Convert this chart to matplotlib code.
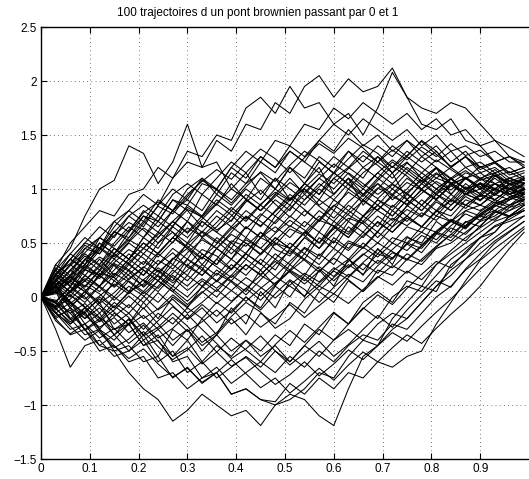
import matplotlib
matplotlib.use('Agg')
import matplotlib.pyplot as plt
import numpy as np

# time grid (every 0.03 from 0 to 0.99)
t = [0.00, 0.03, 0.06, 0.09, 0.12, 0.15, 0.18, 0.21, 0.24, 0.27, 0.30, 0.33,
     0.36, 0.39, 0.42, 0.45, 0.48, 0.51, 0.54, 0.57, 0.60, 0.63, 0.66, 0.69,
     0.72, 0.75, 0.78, 0.81, 0.84, 0.87, 0.90, 0.93, 0.96, 0.99]

# outer paths
p1 = [0, 0.3, 0.45, 0.75, 1.0, 1.08, 1.40, 1.33, 1.05, 1.25, 1.60, 1.20, 1.25, 1.00, 1.15, 0.95, 1.10, 0.90, 1.05, 1.20, 0.95, 1.10, 0.85, 1.00, 1.15, 0.90, 1.05, 1.20, 0.95, 1.10, 1.00, 1.15, 0.95, 1.05]
p2 = [0, 0.2, 0.35, 0.5, 0.45, 0.7, 0.8, 0.95, 0.85, 1.1, 1.25, 1.2, 1.45, 1.35, 1.6, 1.55, 1.8, 1.7, 1.95, 2.05, 1.85, 2.02, 1.9, 1.95, 2.12, 1.85, 1.75, 1.70, 1.80, 1.75, 1.60, 1.45, 1.38, 1.30]
p3 = [0, 0.25, 0.5, 0.65, 0.8, 0.75, 0.95, 1.0, 1.2, 1.1, 1.35, 1.3, 1.5, 1.45, 1.75, 1.85, 1.7, 1.95, 1.75, 1.8, 1.6, 1.7, 1.5, 1.75, 2.08, 1.85, 1.6, 1.55, 1.65, 1.45, 1.40, 1.25, 1.30, 1.20]
p4 = [0, -0.3, -0.65, -0.45, -0.40, -0.55, -0.50, -0.35, -0.55, -0.30, -0.40, -0.20, -0.35, -0.10, -0.25, 0.05, -0.10, 0.15, 0.0, 0.25, 0.10, 0.35, 0.20, 0.45, 0.30, 0.55, 0.50, 0.70, 0.60, 0.80, 0.75, 0.85, 0.80, 0.90]
p5 = [0, -0.15, -0.30, -0.25, -0.45, -0.50, -0.70, -0.85, -0.95, -1.15, -1.05, -0.90, -1.00, -1.10, -1.05, -1.19, -1.00, -0.95, -0.85, -0.70, -0.75, -0.55, -0.40, -0.45, -0.20, -0.05, 0.10, 0.05, 0.30, 0.40, 0.55, 0.60, 0.75, 0.80]
p6 = [0, 0.1, -0.1, -0.2, -0.05, -0.3, -0.25, -0.45, -0.40, -0.60, -0.55, -0.75, -0.70, -0.90, -0.85, -0.95, -1.00, -0.90, -0.95, -1.10, -1.19, -0.85, -0.55, -0.45, -0.30, -0.20, -0.05, 0.10, 0.25, 0.35, 0.50, 0.60, 0.75, 0.85]
p7 = [0, 0.05, -0.2, -0.35, -0.30, -0.50, -0.45, -0.60, -0.55, -0.75, -0.65, -0.80, -0.70, -0.90, -0.85, -0.95, -0.97, -0.80, -0.90, -0.75, -0.85, -0.70, -0.75, -0.60, -0.65, -0.55, -0.50, -0.25, -0.05, 0.15, 0.34, 0.45, 0.55, 0.65]
p8 = [0, 0.15, 0.30, 0.45, 0.40, 0.60, 0.55, 0.75, 0.70, 0.90, 0.85, 1.05, 1.00, 1.20, 1.35, 1.25, 1.45, 1.40, 1.60, 1.55, 1.75, 1.65, 1.80, 1.70, 1.60, 1.70, 1.55, 1.65, 1.50, 1.55, 1.40, 1.45, 1.30, 1.25]
p9 = [0, -0.20, -0.35, -0.30, -0.50, -0.45, -0.60, -0.55, -0.75, -0.70, -0.85, -0.75, -0.65, -0.80, -0.70, -0.60, -0.70, -0.55, -0.65, -0.50, -0.60, -0.45, -0.35, -0.40, -0.25, -0.30, -0.15, 0.00, 0.10, 0.25, 0.35, 0.50, 0.60, 0.70]

# paths inside the dense band (estimated)
q1 = [0, 0.15, 0.05, 0.25, 0.20, 0.40, 0.30, 0.45, 0.60, 0.50, 0.70, 0.55, 0.65, 0.80, 0.70, 0.85, 0.75, 0.90, 1.00, 0.85, 0.95, 1.10, 0.95, 1.05, 0.90, 1.00, 1.15, 1.05, 0.95, 1.10, 1.00, 0.90, 1.00, 0.95]
q2 = [0, -0.10, 0.05, -0.05, 0.10, 0.00, 0.15, 0.05, 0.20, 0.10, 0.30, 0.20, 0.35, 0.25, 0.40, 0.30, 0.50, 0.45, 0.60, 0.50, 0.65, 0.55, 0.70, 0.60, 0.80, 0.70, 0.85, 0.75, 0.90, 0.85, 0.95, 0.90, 1.00, 0.95]
q3 = [0, 0.20, 0.35, 0.25, 0.50, 0.40, 0.60, 0.75, 0.65, 0.80, 0.70, 0.95, 0.85, 1.05, 0.90, 1.10, 1.00, 1.20, 1.05, 1.25, 1.15, 1.35, 1.20, 1.30, 1.15, 1.25, 1.10, 1.20, 1.05, 1.15, 1.10, 1.00, 1.10, 1.05]
q4 = [0, -0.05, -0.20, -0.10, -0.30, -0.15, -0.25, -0.05, -0.20, 0.00, -0.10, 0.10, 0.00, 0.15, 0.05, 0.25, 0.10, 0.30, 0.20, 0.40, 0.30, 0.50, 0.45, 0.60, 0.50, 0.65, 0.60, 0.75, 0.70, 0.80, 0.85, 0.80, 0.90, 0.95]
q5 = [0, 0.10, 0.25, 0.15, 0.30, 0.45, 0.35, 0.55, 0.45, 0.65, 0.55, 0.70, 0.60, 0.50, 0.65, 0.55, 0.75, 0.65, 0.80, 0.70, 0.90, 0.80, 0.95, 0.85, 1.00, 0.90, 1.05, 0.95, 1.10, 1.00, 1.05, 0.95, 1.05, 1.00]
q6 = [0, 0.05, -0.10, 0.05, -0.05, 0.15, 0.05, 0.25, 0.15, 0.35, 0.45, 0.35, 0.55, 0.45, 0.65, 0.55, 0.70, 0.85, 0.75, 0.90, 0.80, 1.00, 0.90, 1.05, 0.95, 1.10, 1.00, 1.10, 1.05, 0.95, 1.05, 1.00, 0.95, 1.00]
q7 = [0, 0.25, 0.15, 0.35, 0.50, 0.40, 0.55, 0.70, 0.60, 0.80, 0.90, 0.80, 1.00, 0.90, 1.05, 1.15, 1.00, 1.20, 1.10, 1.30, 1.20, 1.35, 1.25, 1.40, 1.30, 1.45, 1.35, 1.25, 1.35, 1.20, 1.25, 1.15, 1.20, 1.10]
q8 = [0, -0.15, -0.05, -0.25, -0.15, -0.35, -0.20, -0.40, -0.30, -0.45, -0.30, -0.50, -0.35, -0.20, -0.35, -0.15, -0.25, -0.05, -0.15, 0.05, -0.05, 0.15, 0.05, 0.25, 0.20, 0.35, 0.30, 0.45, 0.50, 0.60, 0.70, 0.75, 0.85, 0.90]
q9 = [0, 0.10, 0.00, 0.20, 0.10, 0.30, 0.20, 0.10, 0.25, 0.15, 0.35, 0.25, 0.45, 0.35, 0.55, 0.45, 0.35, 0.50, 0.40, 0.60, 0.50, 0.70, 0.60, 0.75, 0.65, 0.85, 0.75, 0.90, 0.80, 0.95, 0.90, 1.00, 0.95, 1.05]
q10 = [0, 0.30, 0.20, 0.45, 0.55, 0.70, 0.60, 0.80, 0.70, 0.90, 0.80, 0.65, 0.80, 0.70, 0.90, 0.80, 0.95, 0.85, 1.05, 0.95, 1.15, 1.05, 1.20, 1.10, 1.25, 1.15, 1.30, 1.20, 1.10, 1.20, 1.10, 1.15, 1.05, 1.10]
q11 = [0, -0.10, -0.25, -0.15, -0.30, -0.40, -0.25, -0.45, -0.35, -0.55, -0.40, -0.60, -0.45, -0.55, -0.40, -0.50, -0.35, -0.45, -0.25, -0.35, -0.15, -0.25, -0.05, 0.05, -0.05, 0.15, 0.10, 0.30, 0.40, 0.50, 0.60, 0.70, 0.75, 0.80]
q12 = [0, 0.05, 0.20, 0.10, 0.25, 0.15, 0.30, 0.20, 0.40, 0.30, 0.50, 0.40, 0.30, 0.45, 0.35, 0.55, 0.65, 0.55, 0.70, 0.60, 0.80, 0.70, 0.90, 0.80, 0.95, 0.85, 1.00, 0.90, 1.05, 0.95, 1.00, 1.10, 1.00, 1.05]
q13 = [0, 0.20, 0.40, 0.55, 0.45, 0.65, 0.80, 0.70, 0.90, 0.80, 1.00, 1.10, 0.95, 1.15, 1.05, 1.25, 1.15, 1.35, 1.25, 1.45, 1.35, 1.55, 1.40, 1.50, 1.35, 1.45, 1.30, 1.40, 1.25, 1.35, 1.20, 1.25, 1.15, 1.20]
q14 = [0, -0.05, 0.10, 0.00, -0.15, 0.00, -0.10, 0.05, -0.05, 0.10, 0.00, 0.15, 0.05, 0.20, 0.35, 0.25, 0.40, 0.30, 0.45, 0.35, 0.55, 0.45, 0.60, 0.50, 0.65, 0.75, 0.65, 0.80, 0.75, 0.90, 0.85, 0.95, 0.90, 1.00]
q15 = [0, 0.15, 0.30, 0.20, 0.10, 0.25, 0.40, 0.30, 0.50, 0.60, 0.50, 0.70, 0.60, 0.75, 0.90, 0.80, 0.95, 1.10, 0.95, 1.10, 1.00, 1.15, 1.05, 0.95, 1.05, 0.95, 1.10, 1.00, 1.10, 1.00, 1.05, 0.95, 1.05, 1.00]
q16 = [0, 0.05, -0.05, -0.20, -0.10, -0.25, -0.15, -0.30, -0.15, -0.25, -0.10, -0.20, -0.05, -0.15, 0.00, -0.10, 0.10, 0.00, 0.20, 0.10, 0.25, 0.35, 0.25, 0.40, 0.35, 0.50, 0.45, 0.60, 0.55, 0.70, 0.65, 0.80, 0.75, 0.85]
q17 = [0, 0.20, 0.10, 0.30, 0.45, 0.35, 0.50, 0.40, 0.55, 0.70, 0.60, 0.75, 0.90, 0.80, 0.95, 0.85, 1.00, 0.90, 1.05, 0.95, 1.10, 1.00, 1.15, 1.25, 1.15, 1.30, 1.20, 1.10, 1.20, 1.10, 1.15, 1.05, 1.10, 1.05]
q18 = [0, -0.20, -0.10, -0.30, -0.45, -0.35, -0.50, -0.40, -0.60, -0.50, -0.70, -0.60, -0.75, -0.65, -0.55, -0.65, -0.50, -0.60, -0.45, -0.55, -0.40, -0.30, -0.40, -0.25, -0.15, -0.20, -0.05, 0.10, 0.20, 0.35, 0.45, 0.55, 0.65, 0.75]
q19 = [0, 0.10, 0.25, 0.40, 0.30, 0.50, 0.65, 0.55, 0.75, 0.65, 0.85, 0.75, 0.95, 0.85, 1.00, 0.90, 1.10, 1.00, 0.90, 1.05, 0.95, 1.10, 1.00, 1.15, 1.05, 1.20, 1.10, 1.00, 1.10, 1.00, 1.10, 1.05, 0.95, 1.00]
q20 = [0, 0.05, 0.15, 0.05, 0.20, 0.10, 0.25, 0.15, 0.05, 0.20, 0.10, 0.25, 0.15, 0.30, 0.20, 0.35, 0.25, 0.45, 0.35, 0.55, 0.45, 0.65, 0.55, 0.70, 0.60, 0.75, 0.65, 0.80, 0.70, 0.85, 0.80, 0.90, 0.85, 0.95]
q21 = [0, 0.25, 0.40, 0.30, 0.55, 0.45, 0.35, 0.55, 0.70, 0.60, 0.45, 0.60, 0.50, 0.65, 0.55, 0.75, 0.90, 0.80, 1.00, 0.90, 1.10, 1.20, 1.10, 1.30, 1.20, 1.35, 1.25, 1.35, 1.20, 1.30, 1.20, 1.25, 1.15, 1.20]
q22 = [0, -0.10, 0.05, 0.15, 0.05, 0.20, 0.35, 0.25, 0.15, 0.30, 0.20, 0.40, 0.30, 0.50, 0.40, 0.60, 0.50, 0.40, 0.55, 0.45, 0.65, 0.55, 0.75, 0.65, 0.85, 0.75, 0.90, 0.80, 0.95, 0.85, 0.95, 0.90, 1.00, 0.95]
q23 = [0, 0.15, 0.05, 0.20, 0.35, 0.20, 0.35, 0.50, 0.40, 0.55, 0.45, 0.30, 0.45, 0.35, 0.50, 0.40, 0.55, 0.45, 0.60, 0.75, 0.65, 0.80, 0.70, 0.85, 0.75, 0.90, 0.80, 0.95, 0.85, 1.00, 0.90, 1.00, 0.95, 0.90]
q24 = [0, 0.10, -0.05, -0.15, 0.00, -0.10, 0.05, -0.05, 0.10, 0.25, 0.15, 0.30, 0.20, 0.35, 0.25, 0.40, 0.55, 0.45, 0.60, 0.50, 0.70, 0.60, 0.75, 0.85, 0.75, 0.90, 0.80, 0.95, 1.05, 0.95, 1.05, 1.00, 1.10, 1.05]
q25 = [0, 0.20, 0.35, 0.50, 0.65, 0.55, 0.75, 0.85, 0.75, 0.95, 1.05, 0.95, 1.10, 1.25, 1.15, 1.30, 1.20, 1.40, 1.30, 1.45, 1.60, 1.50, 1.65, 1.55, 1.45, 1.55, 1.40, 1.50, 1.35, 1.40, 1.30, 1.35, 1.25, 1.25]
q26 = [0, -0.05, -0.15, -0.30, -0.20, -0.35, -0.25, -0.10, -0.25, -0.40, -0.30, -0.45, -0.35, -0.50, -0.40, -0.55, -0.45, -0.60, -0.45, -0.30, -0.40, -0.25, -0.10, -0.20, 0.00, 0.10, 0.05, 0.20, 0.35, 0.45, 0.55, 0.65, 0.70, 0.75]
q27 = [0, 0.10, 0.20, 0.35, 0.25, 0.45, 0.35, 0.50, 0.40, 0.55, 0.70, 0.60, 0.75, 0.65, 0.80, 0.70, 0.60, 0.75, 0.65, 0.80, 0.70, 0.85, 0.75, 0.90, 0.80, 0.95, 0.85, 1.00, 0.90, 1.05, 0.95, 1.05, 1.00, 1.10]
q28 = [0, 0.05, 0.20, 0.30, 0.45, 0.60, 0.75, 0.65, 0.85, 1.00, 0.90, 1.10, 1.00, 1.20, 1.10, 1.30, 1.20, 1.35, 1.25, 1.15, 1.30, 1.20, 1.35, 1.25, 1.40, 1.30, 1.45, 1.35, 1.20, 1.30, 1.15, 1.20, 1.10, 1.15]
q29 = [0, -0.15, -0.25, -0.10, -0.20, -0.05, -0.15, 0.00, 0.15, 0.05, 0.20, 0.10, 0.25, 0.15, 0.30, 0.20, 0.35, 0.25, 0.40, 0.30, 0.45, 0.35, 0.50, 0.40, 0.55, 0.50, 0.65, 0.60, 0.70, 0.65, 0.75, 0.80, 0.75, 0.85]
q30 = [0, 0.25, 0.10, 0.30, 0.20, 0.35, 0.25, 0.40, 0.30, 0.45, 0.35, 0.55, 0.45, 0.60, 0.75, 0.65, 0.80, 0.95, 0.85, 1.00, 0.90, 1.05, 0.95, 1.10, 1.00, 1.15, 1.05, 1.15, 1.05, 1.10, 1.00, 1.05, 0.95, 1.00]

# more band paths with less regular steps (estimated)
r1 = [0, 0.12, -0.08, 0.02, 0.22, 0.18, 0.05, 0.12, 0.30, 0.41, 0.28, 0.20, 0.35, 0.52, 0.47, 0.60, 0.44, 0.38, 0.55, 0.71, 0.66, 0.58, 0.74, 0.90, 0.83, 0.97, 1.08, 0.95, 0.88, 1.02, 0.96, 1.12, 1.04, 0.98]
r2 = [0, -0.18, -0.12, -0.31, -0.22, -0.08, -0.19, -0.36, -0.28, -0.15, -0.27, -0.42, -0.33, -0.18, -0.05, -0.14, -0.29, -0.20, -0.02, 0.10, 0.03, 0.18, 0.31, 0.22, 0.36, 0.49, 0.41, 0.58, 0.70, 0.63, 0.77, 0.86, 0.92, 0.88]
r3 = [0, 0.22, 0.31, 0.48, 0.40, 0.57, 0.69, 0.62, 0.50, 0.66, 0.81, 0.74, 0.62, 0.71, 0.88, 0.99, 0.86, 0.74, 0.90, 1.02, 1.15, 1.04, 0.93, 1.08, 1.21, 1.12, 1.00, 1.14, 1.06, 0.97, 1.09, 1.18, 1.07, 1.12]
r4 = [0, 0.08, 0.19, 0.07, -0.06, 0.04, 0.17, 0.28, 0.19, 0.07, -0.04, 0.09, 0.22, 0.14, 0.02, 0.16, 0.30, 0.43, 0.34, 0.23, 0.38, 0.52, 0.46, 0.61, 0.73, 0.66, 0.78, 0.71, 0.85, 0.96, 0.89, 1.01, 0.93, 0.97]
r5 = [0, -0.06, -0.21, -0.14, -0.33, -0.47, -0.39, -0.26, -0.41, -0.55, -0.47, -0.62, -0.51, -0.38, -0.49, -0.60, -0.44, -0.31, -0.42, -0.28, -0.14, -0.25, -0.11, 0.02, -0.07, 0.08, 0.21, 0.33, 0.27, 0.42, 0.55, 0.66, 0.72, 0.80]
r6 = [0, 0.16, 0.35, 0.27, 0.43, 0.61, 0.52, 0.68, 0.84, 0.77, 0.93, 1.08, 0.99, 0.87, 1.02, 1.16, 1.07, 1.22, 1.35, 1.26, 1.14, 1.28, 1.41, 1.33, 1.20, 1.31, 1.44, 1.32, 1.21, 1.30, 1.18, 1.24, 1.13, 1.17]
r7 = [0, 0.03, 0.14, 0.26, 0.17, 0.31, 0.24, 0.09, 0.21, 0.36, 0.29, 0.44, 0.38, 0.26, 0.41, 0.55, 0.48, 0.63, 0.57, 0.45, 0.59, 0.73, 0.68, 0.55, 0.69, 0.81, 0.74, 0.88, 0.80, 0.93, 0.85, 0.97, 1.02, 0.95]
r8 = [0, -0.12, 0.02, -0.09, -0.23, -0.12, 0.01, -0.11, 0.04, -0.08, -0.21, -0.10, -0.24, -0.13, 0.00, -0.12, 0.03, 0.16, 0.07, -0.05, 0.09, 0.21, 0.14, 0.29, 0.41, 0.34, 0.47, 0.59, 0.52, 0.66, 0.75, 0.71, 0.83, 0.87]
r9 = [0, 0.19, 0.10, 0.26, 0.37, 0.29, 0.16, 0.27, 0.41, 0.55, 0.47, 0.36, 0.49, 0.63, 0.74, 0.66, 0.79, 0.92, 0.81, 0.70, 0.84, 0.97, 0.88, 1.01, 0.94, 1.06, 0.99, 0.91, 1.03, 1.11, 1.02, 0.94, 1.04, 1.08]
r10 = [0, 0.09, -0.04, -0.17, -0.28, -0.19, -0.33, -0.24, -0.38, -0.29, -0.16, -0.30, -0.43, -0.57, -0.48, -0.36, -0.50, -0.63, -0.52, -0.41, -0.55, -0.44, -0.30, -0.17, -0.28, -0.12, 0.02, 0.15, 0.09, 0.26, 0.40, 0.52, 0.61, 0.70]
r11 = [0, 0.27, 0.18, 0.34, 0.46, 0.37, 0.51, 0.64, 0.55, 0.70, 0.59, 0.72, 0.86, 0.76, 0.63, 0.77, 0.68, 0.82, 0.95, 0.84, 0.73, 0.88, 1.00, 0.91, 1.04, 0.96, 0.85, 0.97, 1.09, 1.01, 0.93, 1.05, 0.99, 1.03]
r12 = [0, -0.09, -0.02, 0.11, 0.03, -0.10, 0.04, 0.16, 0.08, 0.22, 0.35, 0.27, 0.14, 0.26, 0.40, 0.31, 0.19, 0.33, 0.46, 0.38, 0.52, 0.43, 0.57, 0.69, 0.60, 0.73, 0.65, 0.79, 0.90, 0.82, 0.94, 0.87, 0.98, 0.92]
r13 = [0, 0.14, 0.29, 0.41, 0.55, 0.47, 0.62, 0.78, 0.88, 0.80, 0.95, 1.07, 1.18, 1.09, 1.24, 1.37, 1.28, 1.15, 1.29, 1.42, 1.33, 1.47, 1.38, 1.25, 1.36, 1.27, 1.39, 1.30, 1.42, 1.31, 1.36, 1.25, 1.30, 1.22]
r14 = [0, -0.22, -0.34, -0.25, -0.38, -0.29, -0.43, -0.32, -0.46, -0.58, -0.49, -0.36, -0.51, -0.64, -0.56, -0.69, -0.81, -0.72, -0.60, -0.73, -0.62, -0.49, -0.58, -0.45, -0.33, -0.41, -0.27, -0.14, -0.02, 0.12, 0.26, 0.38, 0.51, 0.63]
r15 = [0, 0.06, 0.18, 0.09, 0.24, 0.39, 0.31, 0.20, 0.34, 0.26, 0.41, 0.53, 0.45, 0.58, 0.50, 0.39, 0.52, 0.66, 0.58, 0.72, 0.85, 0.76, 0.68, 0.81, 0.93, 0.86, 0.99, 0.90, 1.03, 0.95, 1.06, 0.98, 1.08, 1.01]
r16 = [0, 0.11, 0.24, 0.38, 0.29, 0.18, 0.32, 0.45, 0.37, 0.51, 0.64, 0.56, 0.69, 0.83, 0.72, 0.86, 0.97, 0.89, 1.01, 1.14, 1.05, 1.19, 1.31, 1.22, 1.10, 1.24, 1.15, 1.27, 1.18, 1.09, 1.21, 1.12, 1.16, 1.08]
r17 = [0, -0.03, -0.15, -0.06, -0.19, -0.30, -0.21, -0.35, -0.22, -0.09, -0.20, -0.07, -0.18, -0.05, 0.08, -0.03, 0.11, 0.24, 0.15, 0.28, 0.19, 0.33, 0.46, 0.37, 0.50, 0.43, 0.57, 0.50, 0.64, 0.58, 0.71, 0.79, 0.74, 0.82]
r18 = [0, 0.21, 0.13, 0.05, 0.19, 0.32, 0.44, 0.36, 0.23, 0.35, 0.49, 0.61, 0.52, 0.40, 0.53, 0.45, 0.59, 0.71, 0.62, 0.50, 0.63, 0.77, 0.89, 0.80, 0.71, 0.84, 0.96, 1.07, 0.99, 1.10, 1.02, 1.13, 1.05, 1.09]
r19 = [0, -0.14, -0.27, -0.40, -0.31, -0.45, -0.57, -0.48, -0.62, -0.74, -0.66, -0.79, -0.70, -0.58, -0.71, -0.84, -0.75, -0.89, -0.78, -0.66, -0.77, -0.63, -0.51, -0.60, -0.47, -0.35, -0.43, -0.29, -0.16, -0.04, 0.10, 0.28, 0.45, 0.60]
r20 = [0, 0.17, 0.04, 0.15, 0.28, 0.40, 0.53, 0.45, 0.58, 0.70, 0.83, 0.74, 0.87, 1.00, 0.91, 0.80, 0.93, 1.06, 0.97, 1.10, 1.23, 1.14, 1.02, 1.15, 1.27, 1.18, 1.07, 1.19, 1.09, 1.17, 1.08, 1.13, 1.04, 1.06]

# paths filling the lower middle of the band (estimated)
s1 = [0, 0.07, -0.06, 0.05, -0.08, -0.18, -0.07, -0.20, -0.11, 0.02, -0.09, 0.04, 0.15, 0.06, -0.04, 0.08, 0.19, 0.10, 0.01, 0.13, 0.24, 0.16, 0.05, 0.18, 0.29, 0.22, 0.35, 0.47, 0.58, 0.52, 0.66, 0.78, 0.85, 0.91]
s2 = [0, -0.08, 0.06, 0.17, 0.09, -0.03, 0.10, 0.01, -0.12, -0.02, -0.15, -0.05, 0.07, -0.04, 0.08, 0.20, 0.12, 0.25, 0.17, 0.06, 0.18, 0.30, 0.21, 0.34, 0.27, 0.40, 0.33, 0.46, 0.58, 0.69, 0.76, 0.84, 0.90, 0.96]
s3 = [0, 0.13, 0.02, -0.10, 0.01, 0.12, 0.03, 0.16, 0.27, 0.18, 0.06, 0.17, 0.08, 0.20, 0.11, 0.01, 0.13, 0.24, 0.35, 0.26, 0.15, 0.28, 0.40, 0.31, 0.44, 0.56, 0.48, 0.61, 0.72, 0.66, 0.79, 0.88, 0.83, 0.93]
s4 = [0, -0.11, -0.23, -0.13, -0.02, -0.14, -0.26, -0.17, -0.30, -0.19, -0.32, -0.23, -0.12, -0.25, -0.16, -0.28, -0.18, -0.07, -0.19, -0.08, 0.03, -0.06, 0.07, 0.19, 0.11, 0.24, 0.16, 0.30, 0.43, 0.55, 0.64, 0.73, 0.80, 0.86]
s5 = [0, 0.04, 0.16, 0.28, 0.20, 0.09, 0.21, 0.33, 0.24, 0.13, 0.25, 0.37, 0.28, 0.18, 0.30, 0.21, 0.33, 0.23, 0.12, 0.24, 0.36, 0.27, 0.39, 0.50, 0.42, 0.35, 0.48, 0.60, 0.71, 0.64, 0.77, 0.86, 0.92, 0.97]
s6 = [0, -0.04, 0.09, -0.02, 0.10, 0.22, 0.14, 0.03, 0.15, 0.05, -0.07, 0.05, -0.06, 0.06, 0.18, 0.09, -0.01, 0.11, 0.22, 0.14, 0.27, 0.19, 0.32, 0.44, 0.36, 0.49, 0.60, 0.53, 0.66, 0.77, 0.71, 0.84, 0.92, 0.99]

paths = [p1, p2, p3, p4, p5, p6, p7, p8, p9,
         q1, q2, q3, q4, q5, q6, q7, q8, q9, q10, q11, q12, q13, q14, q15,
         q16, q17, q18, q19, q20, q21, q22, q23, q24, q25, q26, q27, q28, q29, q30,
         r1, r2, r3, r4, r5, r6, r7, r8, r9, r10, r11, r12, r13, r14, r15,
         r16, r17, r18, r19, r20,
         s1, s2, s3, s4, s5, s6]

plt.rcParams['font.family'] = ['Liberation Sans', 'DejaVu Sans']
plt.rcParams['font.size'] = 8.5

fig = plt.figure(figsize=(5.29, 4.79), dpi=100)
# axes run past the right border, like the cropped original
ax = fig.add_axes([41/529, 20/479, 488/529, 432/479])

for p in paths:
    ax.plot(t, p, color='black', linewidth=0.75)

ax.set_xlim(0, 1.0)
ax.set_ylim(-1.5, 2.5)
ax.set_xticks([0, 0.1, 0.2, 0.3, 0.4, 0.5, 0.6, 0.7, 0.8, 0.9])
ax.set_xticklabels(['0', '0.1', '0.2', '0.3', '0.4', '0.5', '0.6', '0.7', '0.8', '0.9'])
ax.set_yticks([-1.5, -1, -0.5, 0, 0.5, 1, 1.5, 2, 2.5])
ax.set_yticklabels(['\u22121.5', '\u22121', '\u22120.5', '0', '0.5', '1', '1.5', '2', '2.5'])
ax.grid(True, color='black', linestyle=(0, (1, 5)), linewidth=0.5)
ax.tick_params(direction='in', length=4, width=0.8, top=True, pad=3)
ax.spines['right'].set_visible(False)
for s in ['left', 'bottom', 'top']:
    ax.spines[s].set_linewidth(1.0)

fig.text(258/529, 1 - 13/479, '100 trajectoires d un pont brownien passant par 0 et 1',
         ha='center', va='center', fontsize=8.5)

fig.savefig('out.png', dpi=100)
